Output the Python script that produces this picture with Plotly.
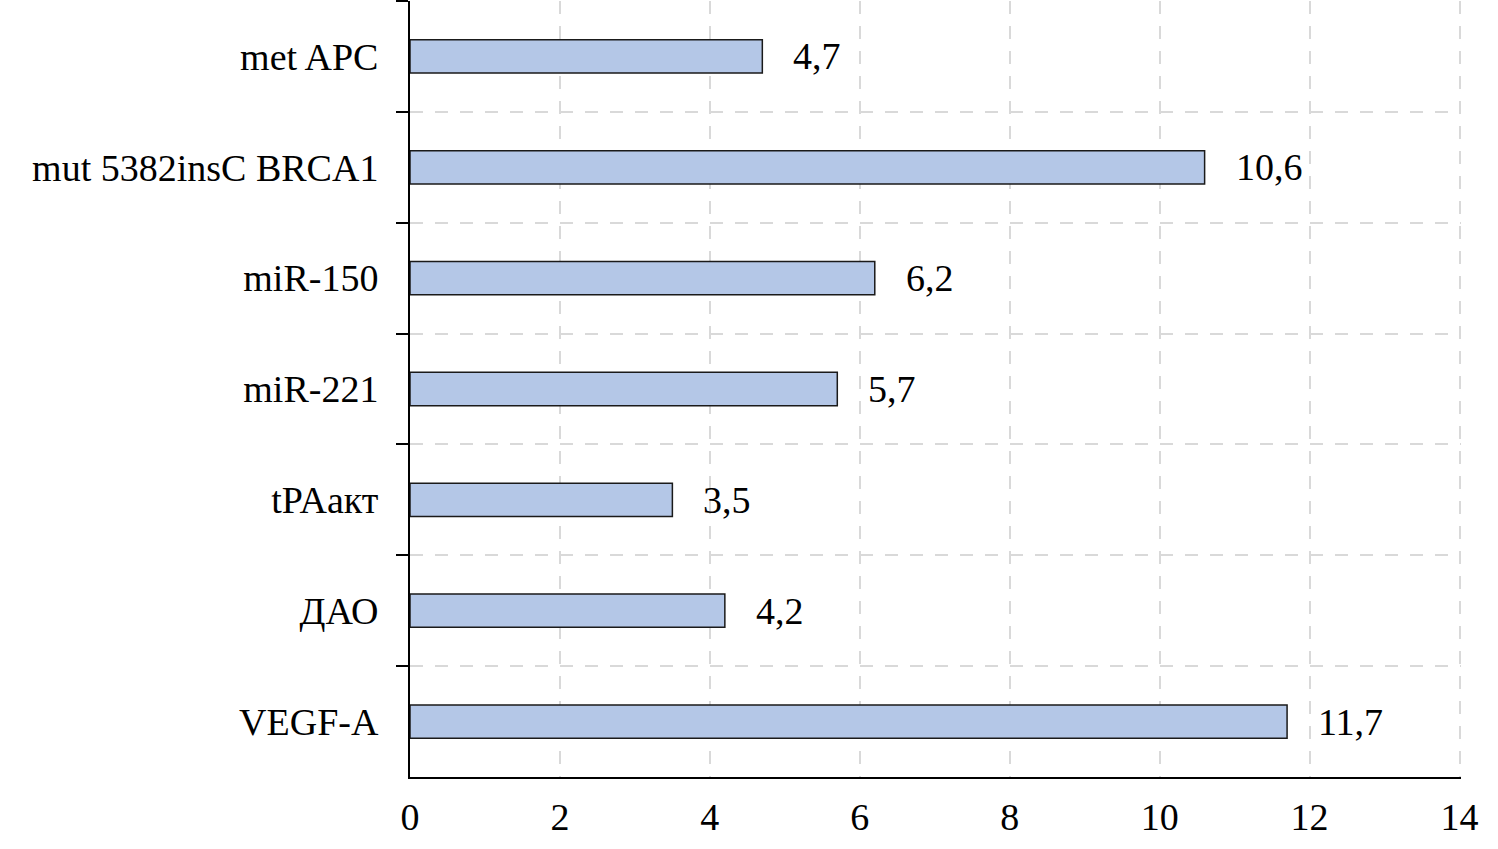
import plotly.graph_objects as go

categories = ["met APC", "mut 5382insC BRCA1", "miR-150", "miR-221", "tPAакт", "ДАО", "VEGF-A"]
values = [4.7, 10.6, 6.2, 5.7, 3.5, 4.2, 11.7]
x_ticks = [0, 2, 4, 6, 8, 10, 12, 14]

FONT = "Liberation Serif"

fig = go.Figure()
fig.add_trace(go.Bar(
    x=values, y=categories, orientation="h",
    marker=dict(color="#b4c7e7", line=dict(color="#1a1a1a", width=1.5)),
    width=0.3, hoverinfo="skip",
))

for c, v in zip(categories, values):
    fig.add_annotation(
        x=v, y=c, text=f"{v:.1f}".replace(".", ","),
        showarrow=False, xanchor="left", yanchor="middle", xshift=29,
        font=dict(family=FONT, size=38, color="black"),
    )

fig.update_layout(
    width=1498, height=849,
    margin=dict(l=410, r=37, t=1, b=72),
    plot_bgcolor="white", paper_bgcolor="white",
    showlegend=False,
    font=dict(family=FONT, size=38, color="black"),
    xaxis=dict(
        range=[0, 14.02], tickvals=x_ticks, ticktext=[str(t) for t in x_ticks],
        showgrid=True, gridcolor="#d9d9d9", gridwidth=1.5, griddash="13px,12px",
        showline=True, linecolor="black", linewidth=2,
        ticks="", ticklabelstandoff=5, zeroline=False,
        tickfont=dict(family=FONT, size=38),
    ),
    yaxis=dict(
        type="category", categoryorder="array", categoryarray=categories,
        autorange="reversed", tickson="boundaries",
        showgrid=True, gridcolor="#d9d9d9", gridwidth=1.5, griddash="13px,12px",
        showline=True, linecolor="black", linewidth=2,
        ticks="outside", ticklen=12, tickwidth=1.5, tickcolor="black",
        ticklabelstandoff=22,
        tickfont=dict(family=FONT, size=38),
    ),
)

fig.write_html("out.html", config={"displayModeBar": False},
               post_script="document.body.style.margin='0';")
